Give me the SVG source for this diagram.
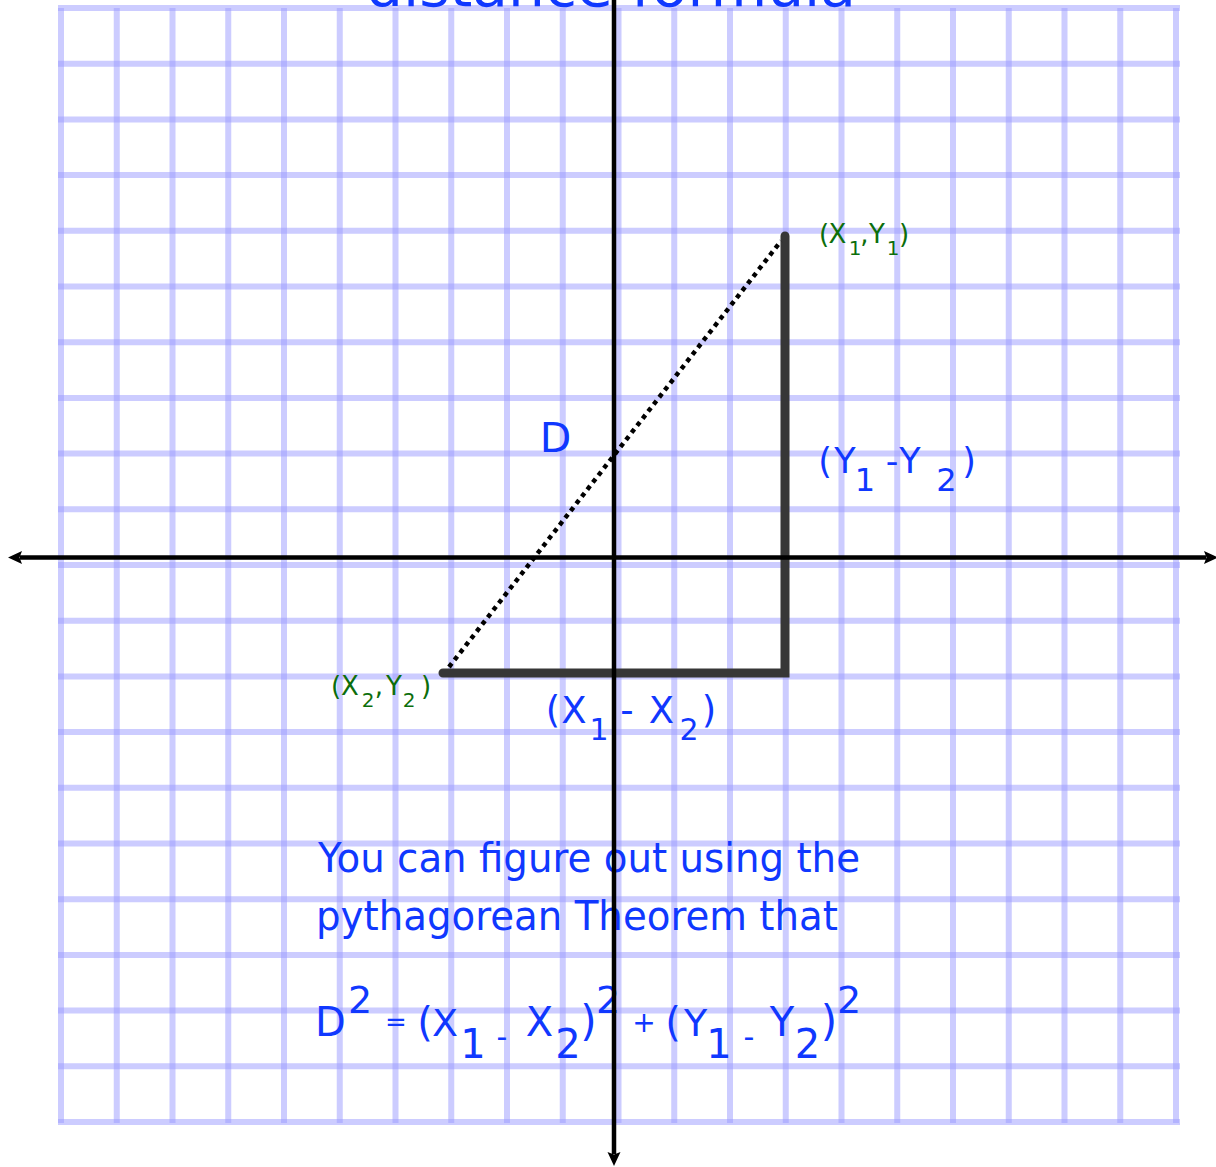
<svg xmlns="http://www.w3.org/2000/svg" width="1216" height="1167" viewBox="0 0 1216 1167">
<style>
.g{stroke:#9999ff;stroke-opacity:0.5;stroke-width:6;fill:none}
.t{font-family:"DejaVu Sans","Liberation Sans",sans-serif}
.blue{fill:#1038ff}
.green{fill:#0c6e0c}
.c{text-anchor:middle}
.axis{stroke:#000;stroke-width:4.5;fill:none}
</style>
<defs>
<marker id="arr" viewBox="0 0 14 14" refX="2" refY="7" markerWidth="14" markerHeight="14" markerUnits="userSpaceOnUse" orient="auto-start-reverse">
<path d="M0,0.5 L14,7 L0,13.5 L2.5,7 z" fill="#000"/>
</marker>
</defs>
<rect width="1216" height="1167" fill="#fff"/>
<g id="grid">
<line class="g" x1="61" y1="8" x2="61" y2="1123"/>
<line class="g" x1="116.75" y1="8" x2="116.75" y2="1123"/>
<line class="g" x1="172.5" y1="8" x2="172.5" y2="1123"/>
<line class="g" x1="228.25" y1="8" x2="228.25" y2="1123"/>
<line class="g" x1="284" y1="8" x2="284" y2="1123"/>
<line class="g" x1="339.75" y1="8" x2="339.75" y2="1123"/>
<line class="g" x1="395.5" y1="8" x2="395.5" y2="1123"/>
<line class="g" x1="451.25" y1="8" x2="451.25" y2="1123"/>
<line class="g" x1="507" y1="8" x2="507" y2="1123"/>
<line class="g" x1="562.75" y1="8" x2="562.75" y2="1123"/>
<line class="g" x1="618.5" y1="8" x2="618.5" y2="1123"/>
<line class="g" x1="674.25" y1="8" x2="674.25" y2="1123"/>
<line class="g" x1="730" y1="8" x2="730" y2="1123"/>
<line class="g" x1="785.75" y1="8" x2="785.75" y2="1123"/>
<line class="g" x1="841.5" y1="8" x2="841.5" y2="1123"/>
<line class="g" x1="897.25" y1="8" x2="897.25" y2="1123"/>
<line class="g" x1="953" y1="8" x2="953" y2="1123"/>
<line class="g" x1="1008.75" y1="8" x2="1008.75" y2="1123"/>
<line class="g" x1="1064.5" y1="8" x2="1064.5" y2="1123"/>
<line class="g" x1="1120.25" y1="8" x2="1120.25" y2="1123"/>
<line class="g" x1="1176" y1="8" x2="1176" y2="1123"/>
<line class="g" x1="58" y1="8" x2="1180" y2="8"/>
<line class="g" x1="58" y1="63.7" x2="1180" y2="63.7"/>
<line class="g" x1="58" y1="119.4" x2="1180" y2="119.4"/>
<line class="g" x1="58" y1="175.1" x2="1180" y2="175.1"/>
<line class="g" x1="58" y1="230.8" x2="1180" y2="230.8"/>
<line class="g" x1="58" y1="286.5" x2="1180" y2="286.5"/>
<line class="g" x1="58" y1="342.2" x2="1180" y2="342.2"/>
<line class="g" x1="58" y1="397.9" x2="1180" y2="397.9"/>
<line class="g" x1="58" y1="453.6" x2="1180" y2="453.6"/>
<line class="g" x1="58" y1="509.3" x2="1180" y2="509.3"/>
<line class="g" x1="58" y1="565" x2="1180" y2="565"/>
<line class="g" x1="58" y1="620.7" x2="1180" y2="620.7"/>
<line class="g" x1="58" y1="676.4" x2="1180" y2="676.4"/>
<line class="g" x1="58" y1="732.1" x2="1180" y2="732.1"/>
<line class="g" x1="58" y1="787.8" x2="1180" y2="787.8"/>
<line class="g" x1="58" y1="843.5" x2="1180" y2="843.5"/>
<line class="g" x1="58" y1="899.2" x2="1180" y2="899.2"/>
<line class="g" x1="58" y1="954.9" x2="1180" y2="954.9"/>
<line class="g" x1="58" y1="1010.6" x2="1180" y2="1010.6"/>
<line class="g" x1="58" y1="1066.3" x2="1180" y2="1066.3"/>
<line class="g" x1="58" y1="1122" x2="1180" y2="1122"/>
</g>
<g id="title">
<text class="t blue" x="366" y="6" font-size="56" textLength="490" lengthAdjust="spacingAndGlyphs">distance formula</text>
</g>
<g id="explanation">
<text class="t blue" x="318" y="872" font-size="41" textLength="542" lengthAdjust="spacingAndGlyphs">You can figure out using the</text>
<text class="t blue" x="316" y="930" font-size="41" textLength="522" lengthAdjust="spacingAndGlyphs">pythagorean Theorem that</text>
</g>
<g id="equation">
<text class="t blue c" font-size="42"><tspan x="330.5" y="1036" font-size="40">D</tspan><tspan x="360" y="1013" font-size="38">2</tspan><tspan x="396" y="1031" font-size="26">=</tspan><tspan x="425" y="1036" font-size="40">(</tspan><tspan x="445" y="1036" font-size="38">X</tspan><tspan x="473" y="1058" font-size="40">1</tspan><tspan x="502" y="1047" font-size="30">-</tspan><tspan x="539.5" y="1036" font-size="40">X</tspan><tspan x="568" y="1058" font-size="40">2</tspan><tspan x="588.5" y="1036">)</tspan><tspan x="608" y="1013" font-size="38">2</tspan><tspan x="644" y="1032" font-size="28">+</tspan><tspan x="673" y="1036" font-size="40">(</tspan><tspan x="695.5" y="1036" font-size="38">Y</tspan><tspan x="719" y="1058" font-size="40">1</tspan><tspan x="749" y="1047" font-size="30">-</tspan><tspan x="782" y="1036" font-size="40">Y</tspan><tspan x="807.5" y="1058" font-size="40">2</tspan><tspan x="829" y="1036">)</tspan><tspan x="849" y="1013" font-size="38">2</tspan></text>
</g>
<g id="label-D">
<text class="t blue c" x="555.5" y="452" font-size="41">D</text>
</g>
<g id="label-dy">
<text class="t blue c" font-size="35"><tspan x="825" y="473">(</tspan><tspan x="845" y="473">Y</tspan><tspan x="865" y="491" font-size="32">1</tspan><tspan x="892" y="473">-</tspan><tspan x="910" y="473">Y</tspan><tspan x="946.5" y="491" font-size="32">2</tspan><tspan x="969" y="473">)</tspan></text>
</g>
<g id="label-dx">
<text class="t blue c" font-size="37"><tspan x="553" y="723">(</tspan><tspan x="574" y="723">X</tspan><tspan x="599" y="740" font-size="30">1</tspan><tspan x="627" y="723">-</tspan><tspan x="661.5" y="723">X</tspan><tspan x="689" y="740" font-size="30">2</tspan><tspan x="709" y="723">)</tspan></text>
</g>
<g id="point-1">
<text class="t green c" font-size="26"><tspan x="824" y="243">(</tspan><tspan x="837.5" y="243">X</tspan><tspan x="855" y="255" font-size="20">1</tspan><tspan x="864.5" y="243">,</tspan><tspan x="877" y="243">Y</tspan><tspan x="893" y="255" font-size="20">1</tspan><tspan x="904" y="243">)</tspan></text>
</g>
<g id="point-2">
<text class="t green c" font-size="26"><tspan x="336" y="695">(</tspan><tspan x="350" y="695">X</tspan><tspan x="368" y="707" font-size="20">2</tspan><tspan x="379" y="695">,</tspan><tspan x="394" y="695">Y</tspan><tspan x="409" y="707" font-size="20">2</tspan><tspan x="426" y="695">)</tspan></text>
</g>
<g id="connectors">
<path id="legs" d="M443,673 L785,673 L785,236" fill="none" stroke="#373737" stroke-width="9" stroke-linecap="round" stroke-linejoin="miter"/>
<line id="hypotenuse" x1="449" y1="667" x2="781" y2="241" stroke="#000" stroke-width="4.5" stroke-dasharray="4.5 4.5"/>
<line id="x-axis" class="axis" x1="20" y1="557.5" x2="1206" y2="557.5" marker-start="url(#arr)" marker-end="url(#arr)"/>
<line id="y-axis" class="axis" x1="614" y1="-5" x2="614" y2="1154" marker-end="url(#arr)"/>
</g>
</svg>
